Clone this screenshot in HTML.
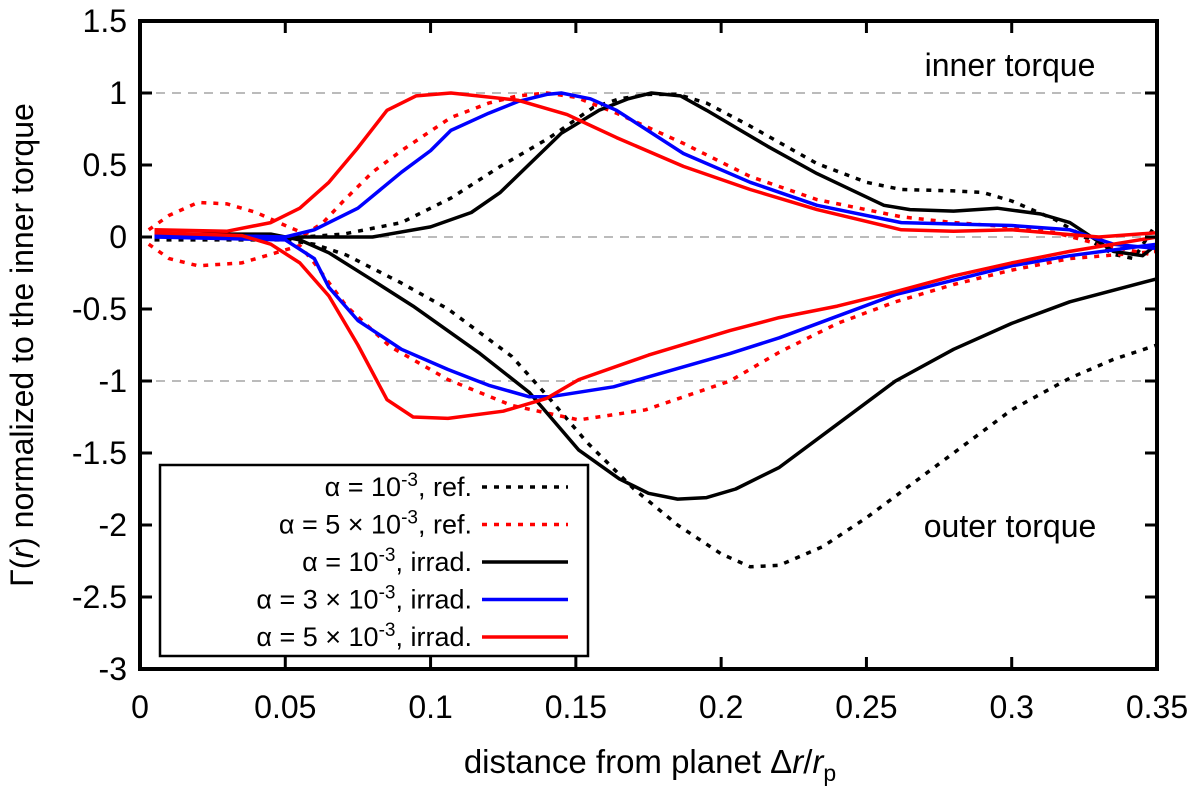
<!DOCTYPE html>
<html><head><meta charset="utf-8"><style>
html,body{margin:0;padding:0;background:#fff}
svg{display:block;font-family:"Liberation Sans",sans-serif}
</style></head><body>
<svg id="chart" width="1200" height="787">
<g id="grid"></g><g id="series"></g><g id="axes"></g><g id="legend"></g>
</svg>
<script>
const xTicks=[0,0.05,0.1,0.15,0.2,0.25,0.3,0.35];
const xTickLabels=["0","0.05","0.1","0.15","0.2","0.25","0.3","0.35"];
const yTicks=[1.5,1,0.5,0,-0.5,-1,-1.5,-2,-2.5,-3];
const yTickLabels=["1.5","1","0.5","0","-0.5","-1","-1.5","-2","-2.5","-3"];
const refA1Inner=[[0.005,0],[0.05,-0.01],[0.07,0.02],[0.09,0.1],[0.107,0.27],[0.124,0.49],[0.141,0.69],[0.156,0.9],[0.165,0.96],[0.175,0.99],[0.185,0.99],[0.195,0.93],[0.21,0.77],[0.233,0.51],[0.25,0.38],[0.262,0.33],[0.28,0.32],[0.29,0.31],[0.3,0.25],[0.315,0.12],[0.325,0.0],[0.335,-0.12],[0.342,-0.15],[0.35,0.1]];
const refA1Outer=[[0.005,-0.02],[0.05,-0.02],[0.06,-0.05],[0.071,-0.125],[0.09,-0.32],[0.106,-0.5],[0.128,-0.83],[0.14,-1.1],[0.154,-1.43],[0.17,-1.75],[0.185,-2.0],[0.2,-2.2],[0.21,-2.29],[0.22,-2.28],[0.235,-2.15],[0.25,-1.95],[0.27,-1.65],[0.29,-1.35],[0.3,-1.2],[0.32,-0.98],[0.335,-0.85],[0.35,-0.75]];
const refA5Inner=[[0.003,0.05],[0.01,0.15],[0.02,0.24],[0.03,0.23],[0.04,0.17],[0.05,0.08],[0.057,0.02],[0.063,0.1],[0.07,0.25],[0.08,0.45],[0.09,0.6],[0.107,0.83],[0.12,0.93],[0.13,0.98],[0.14,1.0],[0.15,0.97],[0.164,0.86],[0.187,0.65],[0.21,0.42],[0.233,0.26],[0.262,0.14],[0.28,0.1],[0.3,0.07],[0.315,0.03],[0.33,-0.05],[0.35,-0.13]];
const refA5Outer=[[0.003,-0.05],[0.01,-0.15],[0.02,-0.2],[0.035,-0.18],[0.045,-0.12],[0.055,-0.06],[0.06,-0.18],[0.071,-0.48],[0.086,-0.76],[0.106,-0.99],[0.128,-1.17],[0.151,-1.27],[0.174,-1.2],[0.203,-1.0],[0.22,-0.8],[0.24,-0.6],[0.26,-0.45],[0.28,-0.33],[0.3,-0.23],[0.32,-0.15],[0.35,-0.1]];
const irrA1Inner=[[0.005,0.01],[0.05,0.0],[0.08,0.0],[0.1,0.07],[0.114,0.17],[0.124,0.31],[0.145,0.72],[0.158,0.88],[0.168,0.96],[0.176,1.0],[0.186,0.98],[0.195,0.88],[0.216,0.63],[0.233,0.44],[0.256,0.22],[0.265,0.19],[0.28,0.18],[0.295,0.2],[0.31,0.16],[0.32,0.1],[0.335,-0.1],[0.345,-0.13],[0.35,-0.05]];
const irrA1Outer=[[0.005,0.02],[0.045,0.02],[0.055,-0.02],[0.065,-0.11],[0.08,-0.3],[0.094,-0.48],[0.117,-0.81],[0.134,-1.08],[0.151,-1.48],[0.165,-1.68],[0.175,-1.78],[0.185,-1.82],[0.195,-1.81],[0.205,-1.75],[0.22,-1.6],[0.24,-1.3],[0.26,-1.0],[0.28,-0.78],[0.3,-0.6],[0.32,-0.45],[0.35,-0.29]];
const irrA3Inner=[[0.005,0.02],[0.05,0.0],[0.06,0.05],[0.075,0.2],[0.09,0.45],[0.1,0.6],[0.107,0.74],[0.12,0.86],[0.13,0.94],[0.14,0.99],[0.145,1.0],[0.155,0.96],[0.164,0.88],[0.187,0.58],[0.21,0.38],[0.233,0.22],[0.262,0.1],[0.28,0.09],[0.3,0.08],[0.32,0.05],[0.335,-0.05],[0.35,-0.08]];
const irrA3Outer=[[0.005,0.0],[0.05,-0.02],[0.06,-0.15],[0.065,-0.35],[0.075,-0.58],[0.09,-0.78],[0.106,-0.92],[0.12,-1.03],[0.134,-1.11],[0.141,-1.11],[0.163,-1.04],[0.203,-0.81],[0.22,-0.7],[0.24,-0.55],[0.26,-0.4],[0.28,-0.3],[0.3,-0.2],[0.32,-0.13],[0.35,-0.05]];
const irrA5Inner=[[0.005,0.05],[0.03,0.04],[0.045,0.1],[0.055,0.2],[0.065,0.38],[0.075,0.62],[0.085,0.88],[0.095,0.98],[0.107,1.0],[0.13,0.95],[0.147,0.85],[0.164,0.69],[0.187,0.49],[0.21,0.33],[0.233,0.19],[0.262,0.05],[0.28,0.04],[0.3,0.05],[0.33,0.0],[0.35,0.03]];
const irrA5Outer=[[0.005,0.03],[0.035,0.01],[0.045,-0.05],[0.055,-0.18],[0.065,-0.41],[0.075,-0.75],[0.085,-1.13],[0.094,-1.25],[0.106,-1.26],[0.125,-1.21],[0.14,-1.12],[0.151,-0.99],[0.175,-0.82],[0.203,-0.65],[0.22,-0.56],[0.24,-0.48],[0.26,-0.38],[0.28,-0.27],[0.3,-0.18],[0.32,-0.1],[0.35,0.0]];
const legendLabels=["α = 10<tspan dy='-10' font-size='19'>-3</tspan><tspan dy='10'>, ref.</tspan>","α = 5 × 10<tspan dy='-10' font-size='19'>-3</tspan><tspan dy='10'>, ref.</tspan>","α = 10<tspan dy='-10' font-size='19'>-3</tspan><tspan dy='10'>, irrad.</tspan>","α = 3 × 10<tspan dy='-10' font-size='19'>-3</tspan><tspan dy='10'>, irrad.</tspan>","α = 5 × 10<tspan dy='-10' font-size='19'>-3</tspan><tspan dy='10'>, irrad.</tspan>"];

const NS="http://www.w3.org/2000/svg";
const X0=140,X1=1157,Y0=237,YS=144;
function sx(v){return X0+v*(X1-X0)/0.35;}
function sy(v){return Y0-v*YS;}
function mk(tag,attrs,parent){const e=document.createElementNS(NS,tag);for(const k in attrs)e.setAttribute(k,attrs[k]);parent.appendChild(e);return e;}
const grid=document.getElementById('grid'),ser=document.getElementById('series'),ax=document.getElementById('axes'),lg=document.getElementById('legend');
[1,0,-1].forEach(v=>{const l=mk('line',{x1:X0,x2:X1,y1:sy(v),y2:sy(v),stroke:'#bbb','stroke-width':2,'stroke-dasharray':'9,7'},grid);

});
const series=[
 {d:refA1Inner,c:'#000',dash:true,n:'ref-a1e-3-inner'},{d:refA1Outer,c:'#000',dash:true,n:'ref-a1e-3-outer'},
 {d:refA5Inner,c:'#f00',dash:true,n:'ref-a5e-3-inner'},{d:refA5Outer,c:'#f00',dash:true,n:'ref-a5e-3-outer'},
 {d:irrA1Inner,c:'#000',dash:false,n:'irrad-a1e-3-inner'},{d:irrA1Outer,c:'#000',dash:false,n:'irrad-a1e-3-outer'},
 {d:irrA3Inner,c:'#00f',dash:false,n:'irrad-a3e-3-inner'},{d:irrA3Outer,c:'#00f',dash:false,n:'irrad-a3e-3-outer'},
 {d:irrA5Inner,c:'#f00',dash:false,n:'irrad-a5e-3-inner'},{d:irrA5Outer,c:'#f00',dash:false,n:'irrad-a5e-3-outer'}];
series.forEach(s=>{const p=mk('polyline',{points:s.d.map(q=>sx(q[0]).toFixed(1)+','+sy(q[1]).toFixed(1)).join(' '),fill:'none',stroke:s.c,'stroke-width':3.5,'stroke-linejoin':'round'},ser);
 if(s.dash)p.setAttribute('stroke-dasharray','5,7');
 
 });
const frame=mk('rect',{x:X0,y:sy(1.5),width:X1-X0,height:sy(-3)-sy(1.5),fill:'none',stroke:'#000','stroke-width':4},ax);


xTicks.forEach((v,i)=>{const x=sx(v);
 mk('line',{x1:x,x2:x,y1:sy(-3),y2:sy(-3)-12,stroke:'#000','stroke-width':3},ax);
 mk('line',{x1:x,x2:x,y1:sy(1.5),y2:sy(1.5)+12,stroke:'#000','stroke-width':3},ax);
 const t=mk('text',{x:x,y:718,'text-anchor':'middle','font-size':32},ax);t.textContent=xTickLabels[i];
 
 });
yTicks.forEach((v,i)=>{const y=sy(v);
 mk('line',{x1:X0,x2:X0+12,y1:y,y2:y,stroke:'#000','stroke-width':3},ax);
 mk('line',{x1:X1,x2:X1-12,y1:y,y2:y,stroke:'#000','stroke-width':3},ax);
 const t=mk('text',{x:127,y:y+11,'text-anchor':'end','font-size':32},ax);t.textContent=yTickLabels[i];
 
 });
let t=mk('text',{x:650,y:773,'text-anchor':'middle','font-size':33},ax);
t.innerHTML="distance from planet Δ<tspan font-style='italic'>r</tspan>/<tspan font-style='italic'>r</tspan><tspan font-size='23' dy='8'>p</tspan>";


t=mk('text',{x:0,y:0,'text-anchor':'middle','font-size':32,transform:'translate(33,345) rotate(-90)'},ax);
t.innerHTML="Γ(<tspan font-style='italic'>r</tspan>) normalized to the inner torque";


t=mk('text',{x:1010,y:76,'text-anchor':'middle','font-size':32},ax);t.textContent="inner torque";


t=mk('text',{x:1010,y:537,'text-anchor':'middle','font-size':32},ax);t.textContent="outer torque";


const box=mk('rect',{x:160,y:465,width:428,height:191,fill:'#fff',stroke:'#000','stroke-width':2.5},lg);


const lc=[['#000',true],['#f00',true],['#000',false],['#00f',false],['#f00',false]];
legendLabels.forEach((lab,i)=>{const y=487+i*37.5;
 const tx=mk('text',{x:472,y:y+9,'text-anchor':'end','font-size':27},lg);tx.innerHTML=lab;
 
 
 const l=mk('line',{x1:482,x2:568,y1:y,y2:y,stroke:lc[i][0],'stroke-width':3.5},lg);
 if(lc[i][1])l.setAttribute('stroke-dasharray','5,7');
 
 });
</script>
</body></html>
